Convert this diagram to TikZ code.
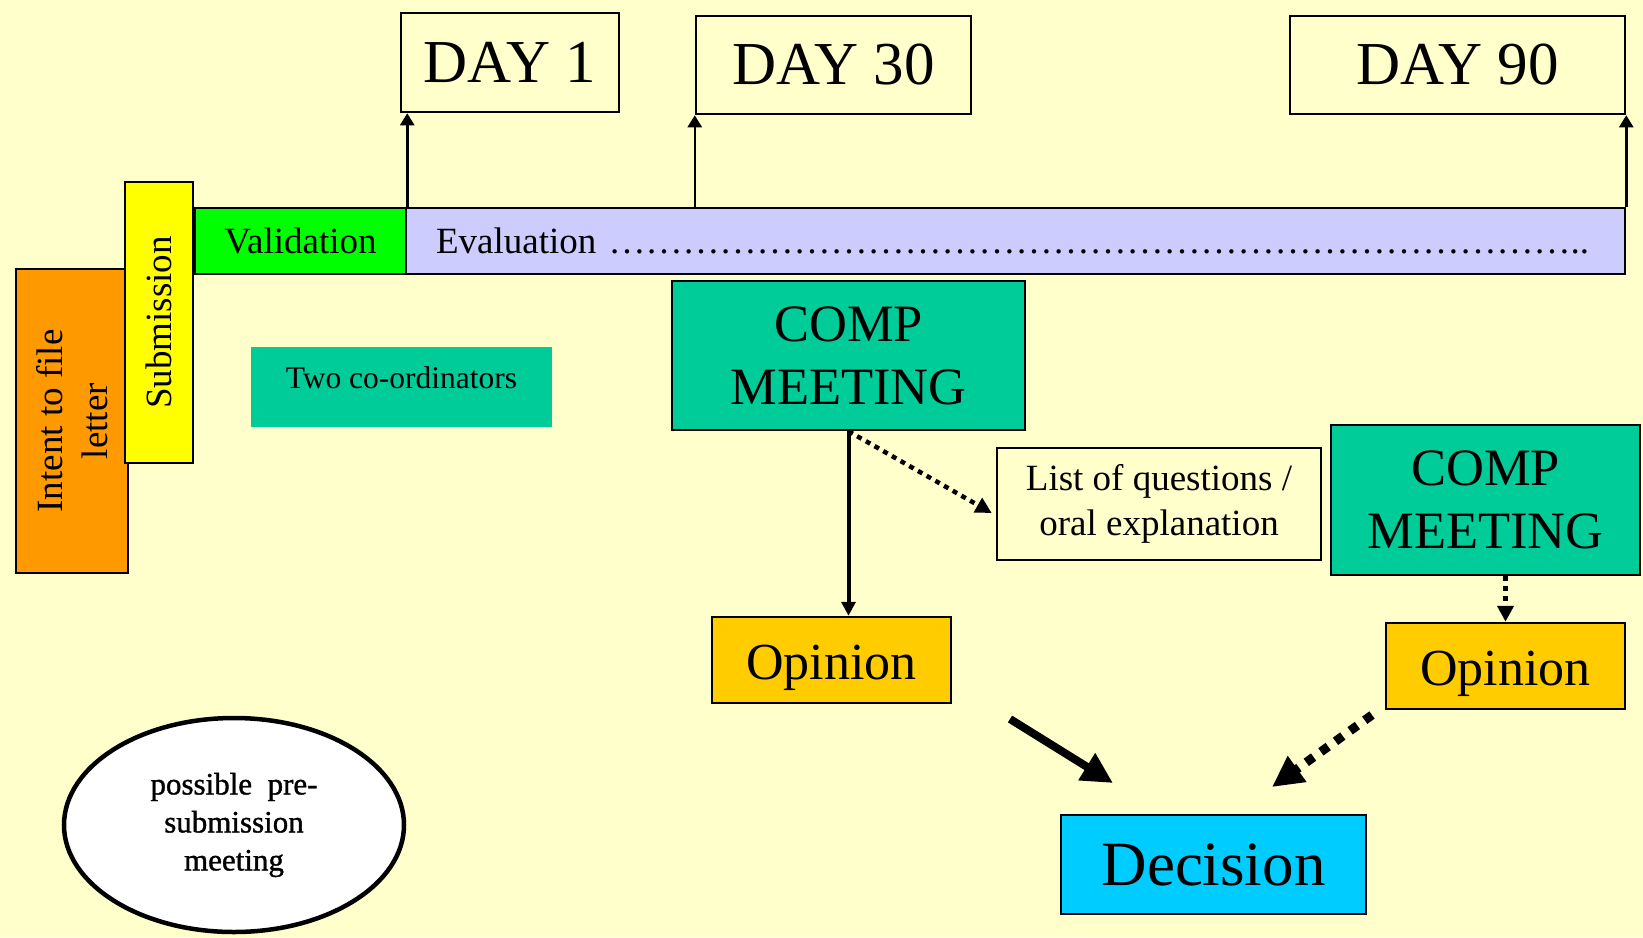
\documentclass[tikz,border=0pt]{standalone}
\usepackage{fontspec}
\setmainfont{Liberation Serif}
\usetikzlibrary{shapes.geometric,arrows.meta,calc}
\definecolor{bgc}{HTML}{FFFFCC}
\definecolor{orangec}{HTML}{FF9900}
\definecolor{yellowc}{HTML}{FFFF00}
\definecolor{greenc}{HTML}{00FF00}
\definecolor{evalc}{HTML}{CCCCFF}
\definecolor{compc}{HTML}{00CC99}
\definecolor{opc}{HTML}{FFCC00}
\definecolor{decc}{HTML}{00CCFF}
\newcommand{\fsz}[2]{\fontsize{#1pt}{#2pt}\selectfont}
\tikzset{
  box/.style={draw=black, line width=2.5pt, inner sep=0pt, align=center},
  upar/.style={line width=2.5pt, -{Triangle[length=12pt,width=14pt]}},
  solidar/.style={line width=4pt, -{Triangle[length=14pt,width=14pt]}},
  dotar/.style={line width=4.5pt, dash pattern=on 5pt off 5pt, -{Triangle[length=16pt,width=16pt]}},
  bigar/.style={line width=8pt, -{Triangle[length=31pt,width=30pt]}},
  bigdotar/.style={line width=9pt, dash pattern=on 9pt off 9pt, -{Triangle[length=31pt,width=30pt]}},
}
\begin{document}
\begin{tikzpicture}[x=1pt,y=-1pt]
\fill[bgc] (0,0) rectangle (1643,937);
\useasboundingbox (0,0) rectangle (1643,937);

% left column
\node[box, fill=orangec, rotate=90, minimum width=304pt, minimum height=112pt, font=\fsz{37}{45}] (intent) at (72,421) {Intent to file\\letter};
\node[box, fill=yellowc, rotate=90, minimum width=281pt, minimum height=68pt, font=\fsz{37}{45}] (sub) at (159,322.5) {Submission};

% timeline bar
\node[box, fill=greenc, minimum width=211pt, minimum height=66pt, font=\fsz{37}{44}] (val) at (300.5,241) {Validation};
\node[box, fill=evalc, minimum width=1219pt, minimum height=66pt, inner xsep=30pt, text width=1159pt, align=left, font=\fsz{37}{44}] (eval) at (1015.5,241) {Evaluation \foreach \i in {1,...,26}{…}..};

% day boxes
\node[box, minimum width=218pt, minimum height=99pt, font=\fsz{61}{73}] (day1) at (510,62.5) {DAY 1};
\node[box, minimum width=275pt, minimum height=98pt, font=\fsz{61}{73}] (day30) at (833.5,65) {DAY 30};
\node[box, minimum width=335pt, minimum height=98pt, font=\fsz{61}{73}] (day90) at (1457.5,65) {DAY 90};

\draw[upar] (val.north east) -- (val.north east |- day1.south);
\draw[upar] (eval.north -| day30.south west) -- (day30.south west);
\draw[upar] (eval.north east) -- (day90.south east);

% coordinators
\node[fill=compc, minimum width=301pt, inner xsep=0pt, inner ysep=20pt, text height=21.5pt, text depth=18.5pt, font=\fsz{31.5}{38}] (two) at (401.5,387) {Two co-ordinators};

% comp meetings
\node[box, fill=compc, minimum width=353pt, minimum height=149pt, font=\fsz{52.5}{63}] (comp1) at (848.5,355.5) {COMP\\MEETING};
\node[box, minimum width=324pt, minimum height=112pt, font=\fsz{37}{45}] (list) at (1159,504) {List of questions /\\oral explanation};
\node[box, fill=compc, minimum width=309pt, minimum height=150pt, font=\fsz{52.5}{63}] (comp2) at (1485.5,500) {COMP\\MEETING};

\node[box, fill=opc, minimum width=239pt, minimum height=86pt, text height=42pt, text depth=4pt, font=\fsz{52}{62}] (op1) at (831.5,660) {Opinion};
\node[box, fill=opc, minimum width=239pt, minimum height=86pt, text height=42pt, text depth=4pt, font=\fsz{52}{62}] (op2) at (1505.5,666) {Opinion};

\node[box, fill=decc, minimum width=305pt, minimum height=99pt, font=\fsz{63}{75}] (dec) at (1213.5,864.5) {Decision};

\draw[solidar] (comp1.south) -- (comp1.south |- op1.north);
\draw[dotar] (comp1.south) -- ($(list.west)+(-4,9)$);
\draw[dotar] (op2.north |- comp2.south) -- (op2.north);

\coordinate (a1s) at (1010,719);
\coordinate (a1e) at (1113,783);
\coordinate (a2s) at (1372,715);
\coordinate (a2e) at (1272,787);
\draw[bigar] (a1s) -- (a1e);
\draw[bigdotar] (a2s) -- (a2e);

% ellipse
\node[ellipse, draw=black, line width=4.5pt, fill=white, minimum width=340pt, minimum height=214pt, inner sep=0pt, align=center, font=\fsz{31}{38}\addfontfeature{FakeBold=1.2}] (pre) at (234,825) {possible\ \ pre-\\submission\\meeting};
\end{tikzpicture}
\end{document}
